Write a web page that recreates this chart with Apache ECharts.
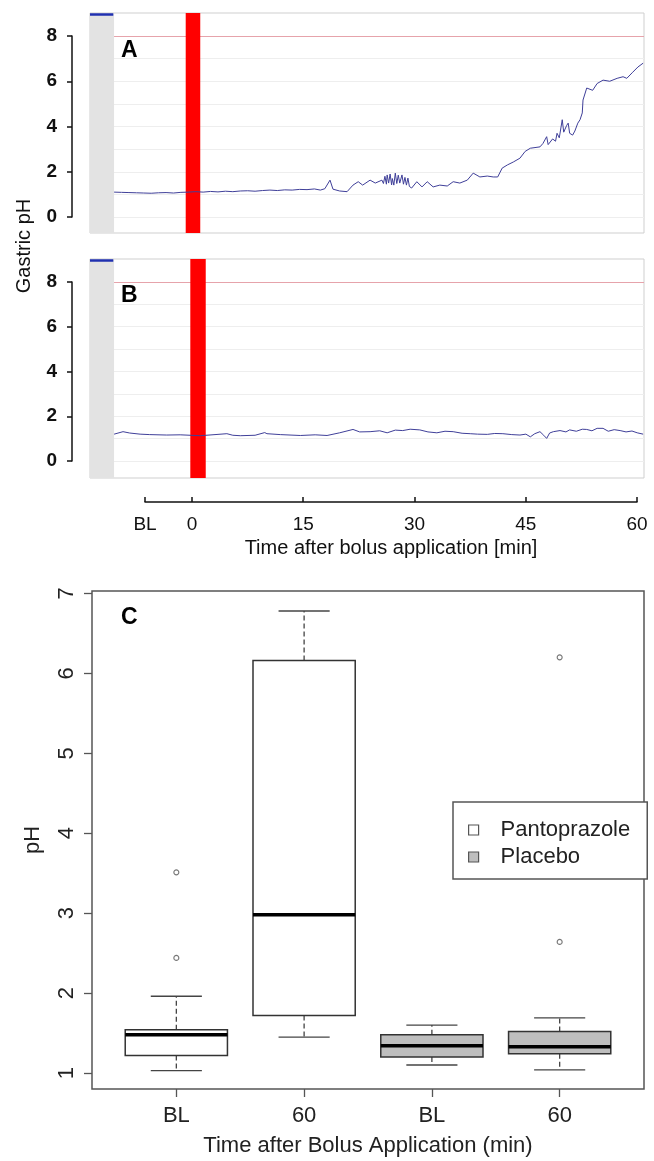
<!DOCTYPE html>
<html><head><meta charset="utf-8">
<script src="https://cdn.jsdelivr.net/npm/echarts@6/dist/echarts.min.js"></script>
<style>html,body{margin:0;padding:0;background:#fff}#chart{width:654px;height:1161px}</style>
</head><body><div id="chart"></div>
<script>
// ---------- DATA ----------
// Panel A (pantoprazole) gastric pH trace: time in min after bolus, pH
const aTime = [-10.5,-9.5,-8.5,-7.5,-6.5,-5.5,-4.5,-3.5,-2.5,-1.5,-0.5,0.5,1.5,2.5,3.5,4.5,5.5,6.5,7.5,8.5,9.5,10.5,11.5,12.5,13.5,14.5,15.5,16.5,17.3,17.9,18.6,19.0,19.9,20.9,21.7,22.4,23.0,24.0,24.7,25.6,25.8,26.0,26.2,26.3,26.5,26.7,26.9,27.0,27.2,27.4,27.6,27.8,28.0,28.3,28.5,28.7,28.9,29.1,29.3,29.6,30.3,31.0,31.7,32.5,33.4,34.4,35.2,36.1,37.1,37.9,38.8,39.8,40.6,41.2,41.8,42.5,43.3,44.2,44.9,45.6,46.9,47.3,47.8,48.0,48.2,48.6,49.0,49.2,49.5,49.9,50.1,50.3,50.5,50.7,50.9,51.3,51.6,52.0,52.3,52.6,52.7,53.2,54.0,54.6,55.4,56.3,57.3,58.1,58.6,59.4,60.1,60.8];
const aPH   = [1.10,1.09,1.08,1.07,1.06,1.05,1.07,1.08,1.06,1.09,1.10,1.12,1.10,1.13,1.11,1.14,1.12,1.15,1.16,1.14,1.17,1.19,1.17,1.20,1.19,1.22,1.21,1.24,1.19,1.25,1.63,1.23,1.15,1.12,1.41,1.56,1.41,1.63,1.50,1.63,1.48,1.80,1.45,1.86,1.50,1.90,1.42,1.70,1.41,1.94,1.48,1.85,1.50,1.86,1.45,1.75,1.41,1.72,1.35,1.28,1.56,1.33,1.56,1.33,1.41,1.37,1.56,1.50,1.63,1.94,1.77,1.81,1.77,1.77,2.16,2.30,2.43,2.60,2.90,3.04,3.10,3.25,3.55,3.20,3.27,3.45,3.35,3.70,3.50,4.30,3.75,3.70,4.05,4.15,3.70,3.62,3.80,4.15,4.30,4.60,5.17,5.70,5.60,5.90,6.05,6.00,6.13,6.20,6.13,6.40,6.63,6.80];
// Panel B (placebo) gastric pH trace
const bTime = [-10.5,-9.3,-8.4,-7.0,-5.7,-3.4,-1.6,1.1,3.1,4.7,5.5,6.5,8.5,9.8,10.1,11.9,14.6,16.6,18.2,19.9,21.7,22.6,24.0,25.3,26.3,27.4,28.4,29.4,30.7,31.8,33.0,34.1,35.2,36.4,37.5,38.5,39.8,40.8,41.9,43.1,44.2,45.0,45.6,46.2,46.9,47.4,47.8,48.2,48.7,49.6,50.4,50.9,51.8,52.6,53.2,53.9,54.6,55.4,56.1,56.9,57.7,58.5,59.3,60.0,60.8];
const bPH   = [1.20,1.31,1.25,1.20,1.18,1.16,1.17,1.13,1.18,1.22,1.15,1.13,1.15,1.27,1.22,1.18,1.14,1.17,1.14,1.26,1.41,1.30,1.31,1.35,1.26,1.38,1.36,1.42,1.39,1.30,1.26,1.33,1.31,1.24,1.22,1.20,1.19,1.23,1.22,1.18,1.16,1.20,1.08,1.22,1.31,1.15,1.01,1.25,1.31,1.36,1.30,1.39,1.33,1.42,1.41,1.35,1.46,1.46,1.33,1.40,1.36,1.30,1.34,1.26,1.20];
// Bolus application (red band), min
const bolusA = [-0.85, 1.11];
const bolusB = [-0.23, 1.85];
const alarmPH = 8;
const gridPH = [0,1,2,3,4,5,6,7];
// Time axis ticks
const timeTickVals = [-6.33, 0, 15, 30, 45, 60];
const timeTickLabels = ['BL', '0', '15', '30', '45', '60'];
// Panel C box plot
const boxPos = [1, 2, 3, 4];
const boxCategories = ['BL', '60', 'BL', '60'];
const boxGroups = ['Pantoprazole', 'Pantoprazole', 'Placebo', 'Placebo'];
const boxMin = [1.03, 1.45, 1.10, 1.04];
const boxQ1 = [1.22, 1.72, 1.20, 1.24];
const boxMedian = [1.48, 2.98, 1.34, 1.33];
const boxQ3 = [1.54, 6.16, 1.48, 1.52];
const boxMax = [1.96, 6.78, 1.60, 1.69];
const outlierPos = [1, 1, 4, 4];
const outlierVal = [2.44, 3.51, 2.64, 6.20];
const cYTicks = [1, 2, 3, 4, 5, 6, 7];

// ---------- CHART ----------
const FONT = 'Liberation Sans, Arial, Helvetica, sans-serif';
const chart = echarts.init(document.getElementById('chart'), null, {renderer: 'canvas'});

const pTMin = -13.75, pTMax = 60.92, stripEnd = -10.51;

function gridSeries(idx) {
  const lines = gridPH.map(v => [{coord: [stripEnd, v], lineStyle: {color: '#eeeeee', width: 1, type: 'solid'}}, {coord: [pTMax, v]}]);
  lines.push([{coord: [stripEnd, alarmPH], lineStyle: {color: '#e6a3ab', width: 1, type: 'solid'}}, {coord: [pTMax, alarmPH]}]);
  return {
    name: 'grid' + idx, type: 'line', xAxisIndex: idx, yAxisIndex: idx, data: [], z: 1, silent: true,
    markLine: {z: 1, silent: true, symbol: 'none', label: {show: false}, data: lines}
  };
}

function panelMarkers(bolus, yTop) {
  return {
    markArea: {z: 3, silent: true, data: [
      [{xAxis: pTMin, itemStyle: {color: '#e3e3e3'}}, {xAxis: stripEnd}],
      [{xAxis: bolus[0], itemStyle: {color: '#ff0000'}}, {xAxis: bolus[1]}]
    ]},
    markLine: {z: 6, silent: true, symbol: 'none', label: {show: false}, data: [
      [{coord: [stripEnd, -2], lineStyle: {color: '#888', width: 1, type: [2, 2]}}, {coord: [stripEnd, 12]}],
      [{coord: [pTMin, yTop], lineStyle: {color: '#2030b0', width: 2.5, type: 'solid'}}, {coord: [stripEnd - 0.1, yTop]}]
    ]}
  };
}

function renderBox(params, api) {
  const pos = api.value(0);
  const pLo = api.coord([pos, api.value(1)]);
  const pQ1 = api.coord([pos, api.value(2)]);
  const pMed = api.coord([pos, api.value(3)]);
  const pQ3 = api.coord([pos, api.value(4)]);
  const pHi = api.coord([pos, api.value(5)]);
  const boxHalf = api.size([0.4, 0])[0];
  const capHalf = api.size([0.2, 0])[0];
  const x = pLo[0];
  const fill = api.visual('color');
  const dash = {stroke: '#444', lineWidth: 1.3, lineDash: [5, 3], fill: null};
  const solid = {stroke: '#444', lineWidth: 1.3, fill: null};
  return {type: 'group', children: [
    {type: 'line', shape: {x1: x, y1: pQ3[1], x2: x, y2: pHi[1]}, style: dash},
    {type: 'line', shape: {x1: x, y1: pQ1[1], x2: x, y2: pLo[1]}, style: dash},
    {type: 'line', shape: {x1: x - capHalf, y1: pHi[1], x2: x + capHalf, y2: pHi[1]}, style: solid},
    {type: 'line', shape: {x1: x - capHalf, y1: pLo[1], x2: x + capHalf, y2: pLo[1]}, style: solid},
    {type: 'rect', shape: {x: x - boxHalf, y: pQ3[1], width: boxHalf * 2, height: pQ1[1] - pQ3[1]}, style: {fill: fill, stroke: '#333', lineWidth: 1.5}},
    {type: 'line', shape: {x1: x - boxHalf, y1: pMed[1], x2: x + boxHalf, y2: pMed[1]}, style: {stroke: '#000', lineWidth: 3.5}}
  ]};
}

function boxData(group) {
  const out = [];
  boxPos.forEach((p, i) => {
    if (boxGroups[i] === group) out.push([p, boxMin[i], boxQ1[i], boxMedian[i], boxQ3[i], boxMax[i]]);
  });
  return out;
}

const option = {
  animation: false,
  backgroundColor: '#fff',
  textStyle: {fontFamily: FONT},
  grid: [
    {left: 90, top: 13, width: 554, height: 220, show: true, borderColor: '#cfcfcf', borderWidth: 1, backgroundColor: '#fff'},
    {left: 90, top: 259, width: 554, height: 219, show: true, borderColor: '#cfcfcf', borderWidth: 1, backgroundColor: '#fff'},
    {left: 72, top: 36, width: 10, height: 181},
    {left: 72, top: 282, width: 10, height: 179},
    {left: 145, top: 501, width: 492, height: 1},
    {left: 92, top: 591, width: 552, height: 498, show: true, borderColor: '#555', borderWidth: 1.5, backgroundColor: '#fff'}
  ],
  xAxis: [
    {gridIndex: 0, type: 'value', min: pTMin, max: pTMax, show: false},
    {gridIndex: 1, type: 'value', min: pTMin, max: pTMax, show: false},
    {gridIndex: 2, type: 'value', min: 0, max: 1, show: false},
    {gridIndex: 3, type: 'value', min: 0, max: 1, show: false},
    {gridIndex: 4, type: 'value', min: timeTickVals[0], max: 60, position: 'bottom',
      axisLine: {show: true, onZero: false, lineStyle: {color: '#111', width: 1.5}},
      axisTick: {show: true, inside: true, length: 5, customValues: timeTickVals, lineStyle: {color: '#111', width: 1.5}},
      axisLabel: {customValues: timeTickVals, fontSize: 19, color: '#111', margin: 13,
        formatter: v => timeTickLabels[timeTickVals.indexOf(v)]},
      splitLine: {show: false},
      name: 'Time after bolus application [min]', nameLocation: 'middle', nameGap: 36,
      nameTextStyle: {fontSize: 20, color: '#111'}},
    {gridIndex: 5, type: 'value', min: 0.34, max: 4.66,
      axisLine: {show: false},
      axisTick: {show: true, length: 8, customValues: boxPos, lineStyle: {color: '#555', width: 1.3}},
      axisLabel: {customValues: boxPos, fontSize: 22, color: '#222', margin: 16,
        formatter: v => boxCategories[boxPos.indexOf(v)]},
      splitLine: {show: false},
      name: 'Time after Bolus Application (min)', nameLocation: 'middle', nameGap: 46,
      nameTextStyle: {fontSize: 22, color: '#222'}}
  ],
  yAxis: [
    {gridIndex: 0, type: 'value', min: -0.707, max: 9.017, show: false},
    {gridIndex: 1, type: 'value', min: -0.760, max: 9.028, show: false},
    {gridIndex: 2, type: 'value', min: 0, max: 8, interval: 2, position: 'left',
      axisLine: {show: true, lineStyle: {color: '#111', width: 1.5}},
      axisTick: {show: true, length: 5, lineStyle: {color: '#111', width: 1.5}},
      axisLabel: {fontSize: 19, fontWeight: 'bold', color: '#111', margin: 15},
      splitLine: {show: false}},
    {gridIndex: 3, type: 'value', min: 0, max: 8, interval: 2, position: 'left',
      axisLine: {show: true, lineStyle: {color: '#111', width: 1.5}},
      axisTick: {show: true, length: 5, lineStyle: {color: '#111', width: 1.5}},
      axisLabel: {fontSize: 19, fontWeight: 'bold', color: '#111', margin: 15},
      splitLine: {show: false}},
    {gridIndex: 4, type: 'value', min: 0, max: 1, show: false},
    {gridIndex: 5, type: 'value', min: 0.8, max: 7.03,
      axisLine: {show: false},
      axisTick: {show: true, length: 8, customValues: cYTicks, lineStyle: {color: '#555', width: 1.3}},
      axisLabel: {customValues: cYTicks, rotate: 90, fontSize: 22, color: '#222', margin: 14},
      splitLine: {show: false}}
  ],
  legend: {
    orient: 'vertical', left: 453, top: 802,
    padding: [17, 17, 11, 15], itemGap: 5, itemWidth: 10, itemHeight: 10, icon: 'rect',
    borderColor: '#555', borderWidth: 1.5, backgroundColor: '#fff',
    textStyle: {fontSize: 22, color: '#222', padding: [0, 0, 0, 17], lineHeight: 22},
    selectedMode: false,
    data: [
      {name: 'Pantoprazole', itemStyle: {color: '#ffffff', borderColor: '#555', borderWidth: 1.2}},
      {name: 'Placebo', itemStyle: {color: '#bebebe', borderColor: '#555', borderWidth: 1.2}}
    ]
  },
  graphic: [
    {type: 'text', x: 24, y: 246, rotation: Math.PI / 2, style: {text: 'Gastric pH', font: '20px ' + FONT, fill: '#111', align: 'center', verticalAlign: 'middle'}},
    {type: 'text', x: 33, y: 840, rotation: Math.PI / 2, style: {text: 'pH', font: '22px ' + FONT, fill: '#222', align: 'center', verticalAlign: 'middle'}},
    {type: 'text', x: 121, y: 51, z: 100, style: {text: 'A', font: 'bold 23px ' + FONT, fill: '#000', align: 'left', verticalAlign: 'middle'}},
    {type: 'text', x: 121, y: 296, z: 100, style: {text: 'B', font: 'bold 23px ' + FONT, fill: '#000', align: 'left', verticalAlign: 'middle'}},
    {type: 'text', x: 121, y: 618, z: 100, style: {text: 'C', font: 'bold 23px ' + FONT, fill: '#000', align: 'left', verticalAlign: 'middle'}}
  ],
  series: [
    gridSeries(0),
    gridSeries(1),
    Object.assign({
      name: 'traceA', type: 'line', xAxisIndex: 0, yAxisIndex: 0, showSymbol: false, z: 5,
      lineStyle: {color: '#3f3f99', width: 1}, silent: true,
      data: aTime.map((t, i) => [t, aPH[i]])
    }, panelMarkers(bolusA, 8.98)),
    Object.assign({
      name: 'traceB', type: 'line', xAxisIndex: 1, yAxisIndex: 1, showSymbol: false, z: 5,
      lineStyle: {color: '#3f3f99', width: 1}, silent: true,
      data: bTime.map((t, i) => [t, bPH[i]])
    }, panelMarkers(bolusB, 8.98)),
    {name: 'Pantoprazole', type: 'custom', xAxisIndex: 5, yAxisIndex: 5, renderItem: renderBox,
      itemStyle: {color: '#ffffff'}, encode: {x: 0, y: [1, 2, 3, 4, 5]}, data: boxData('Pantoprazole'), z: 3},
    {name: 'Placebo', type: 'custom', xAxisIndex: 5, yAxisIndex: 5, renderItem: renderBox,
      itemStyle: {color: '#bebebe'}, encode: {x: 0, y: [1, 2, 3, 4, 5]}, data: boxData('Placebo'), z: 3},
    {name: 'outliers', type: 'scatter', xAxisIndex: 5, yAxisIndex: 5, symbol: 'circle', symbolSize: 5,
      itemStyle: {color: '#fff', borderColor: '#555', borderWidth: 1.1}, z: 4,
      data: outlierPos.map((p, i) => [p, outlierVal[i]])}
  ]
};
chart.setOption(option);
</script></body></html>
